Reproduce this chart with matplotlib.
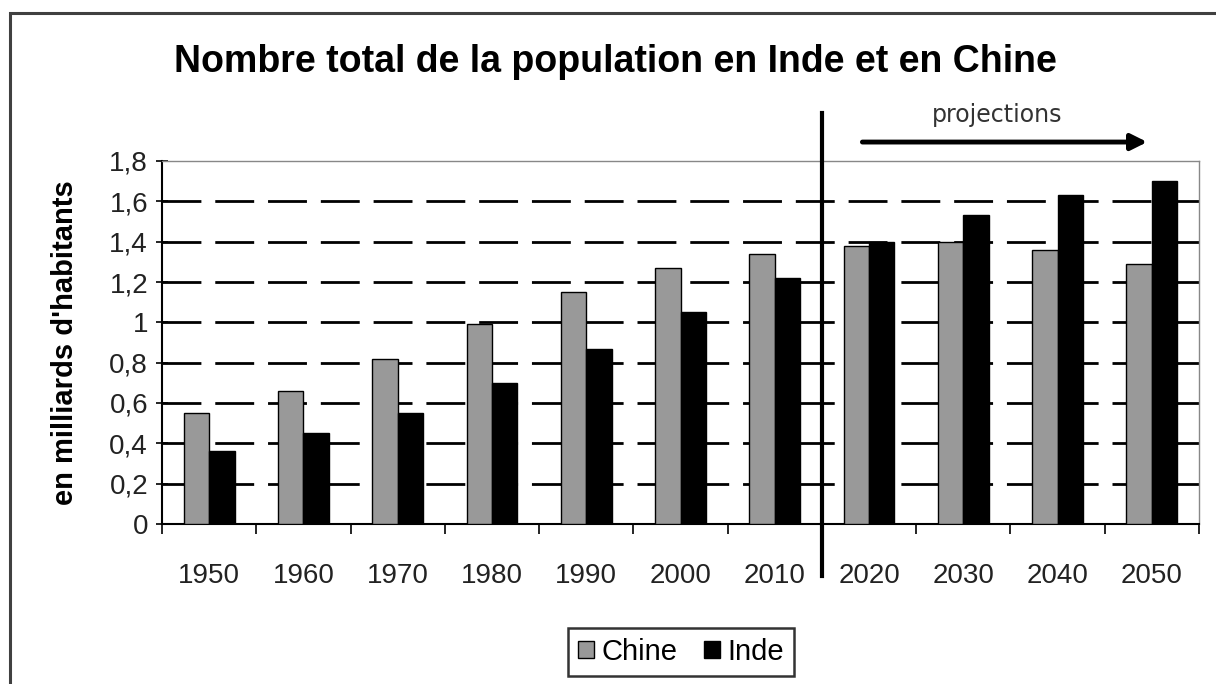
import matplotlib
matplotlib.use("Agg")
import matplotlib.pyplot as plt
import numpy as np
from matplotlib.patches import Rectangle

years = ["1950", "1960", "1970", "1980", "1990", "2000", "2010", "2020", "2030", "2040", "2050"]
chine = [0.55, 0.66, 0.82, 0.99, 1.15, 1.27, 1.34, 1.38, 1.40, 1.36, 1.29]
inde = [0.36, 0.45, 0.55, 0.70, 0.87, 1.05, 1.22, 1.40, 1.53, 1.63, 1.70]
yticks = [0, 0.2, 0.4, 0.6, 0.8, 1.0, 1.2, 1.4, 1.6, 1.8]
ytick_labels = ["0", "0,2", "0,4", "0,6", "0,8", "1", "1,2", "1,4", "1,6", "1,8"]

plt.rcParams['font.family'] = ['Liberation Sans', 'DejaVu Sans']

fig = plt.figure(figsize=(12.16, 6.84), dpi=100)
fig.patch.set_facecolor('white')
# outer border
fig.add_artist(Rectangle((10/1216, -0.05), 1.2, 1 - 13/684 + 0.05, transform=fig.transFigure,
                         fill=False, edgecolor='#404040', linewidth=2.2))

ax = fig.add_axes([162/1216, 1 - 524/684, (1199-162)/1216, (524-161)/684])
x = np.arange(len(years))
w = 0.27
ax.bar(x - w/2, chine, w, color='#999999', edgecolor='black', linewidth=1.0, label='Chine', zorder=3)
ax.bar(x + w/2, inde, w, color='black', edgecolor='black', linewidth=1.0, label='Inde', zorder=3)

ax.set_xlim(-0.5, len(years) - 0.5)
ax.set_ylim(0, 1.8)
ax.set_yticks(yticks)
ax.set_yticklabels(ytick_labels, fontsize=20, color='#222222')
ax.set_xticks(x)
ax.set_xticklabels(years, fontsize=20, color='#222222')
ax.tick_params(axis='x', which='major', length=0, pad=28)
ax.set_xticks(np.arange(len(years) + 1) - 0.5, minor=True)
ax.tick_params(axis='x', which='minor', length=7, width=1.2, direction='out', color='black')
ax.tick_params(axis='y', length=8, width=1.2, direction='inout', pad=6)

for yv in yticks[1:-1]:
    ax.axhline(yv, color='black', linewidth=2.0, linestyle=(0, (14, 5)), zorder=1)

for s in ['top', 'right']:
    ax.spines[s].set_color('#888888')
    ax.spines[s].set_linewidth(1.0)
for s in ['left', 'bottom']:
    ax.spines[s].set_color('black')
    ax.spines[s].set_linewidth(1.5)

ax.set_ylabel("en milliards d'habitants", fontsize=21, fontweight='bold', labelpad=22)

# projection separator
sep_x = 6.5
ax.plot([sep_x, sep_x], [-0.26, 2.04], color='black', linewidth=3, clip_on=False, zorder=5)
ax.annotate('', xy=(9.98, 1.894), xytext=(6.90, 1.894),
            arrowprops=dict(arrowstyle='-|>', color='black', lw=3.5, mutation_scale=24),
            annotation_clip=False)
ax.text(8.36, 2.03, 'projections', ha='center', va='center', fontsize=17,
        color='#333333', family='DejaVu Sans')

fig.text(615/1216, 1 - 62/684, 'Nombre total de la population en Inde et en Chine',
         ha='center', va='center', fontsize=27, fontweight='bold')

leg = ax.legend(loc='center', bbox_to_anchor=(681/1216, 1 - 652/684), bbox_transform=fig.transFigure,
                ncol=2, frameon=True, fancybox=False, edgecolor='black', fontsize=21,
                handlelength=0.55, handleheight=0.55, handletextpad=0.25, columnspacing=0.9,
                borderpad=0.35)
leg.get_frame().set_linewidth(1.8)

fig.savefig('out.png', dpi=100)
